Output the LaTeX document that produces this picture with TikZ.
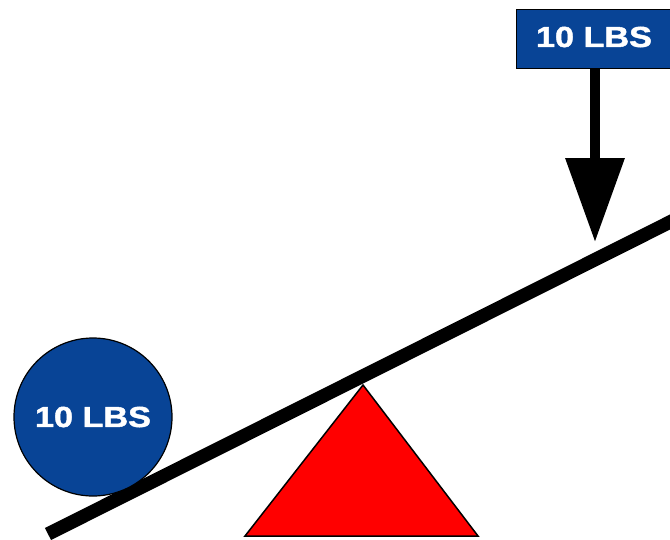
\documentclass[tikz,border=0pt]{standalone}
\usepackage{fontspec}
\newfontfamily\lbs{Liberation Sans Bold}[FakeStretch=1.18, FakeBold=1.6]
\usetikzlibrary{arrows.meta}
\definecolor{lbsblue}{RGB}{8,68,150}
\definecolor{fulcrumred}{RGB}{255,0,0}
\tikzset{
  weight/.style={draw=black, line width=1.2pt, fill=lbsblue, text=white,
    font=\lbs\fontsize{29}{31}\selectfont, inner sep=0pt},
  lever/.style={line width=13.5pt, line cap=butt},
  force/.style={line width=10pt, -{Triangle[width=57pt,length=84pt]}},
  fulcrum/.style={draw=black, line width=1.5pt, fill=fulcrumred, line join=miter}
}
\begin{document}
\begin{tikzpicture}[x=1pt,y=-1pt]
\useasboundingbox (0,0) rectangle (670,539);
% lever
\coordinate (leverL) at (48,534);
\coordinate (leverR) at (690,212);
\draw[lever] (leverL) -- (leverR);
% fulcrum
\coordinate (apex) at (363,385);
\coordinate (baseL) at (245,536);
\coordinate (baseR) at (478,536);
\draw[fulcrum] (apex) -- (baseR) -- (baseL) -- cycle;
% ball weight
\node[weight, circle, minimum size=158pt] (ball) at (93,417) {10 LBS};
% box weight
\node[weight, rectangle, minimum width=160pt, minimum height=59pt, anchor=north west] (box) at (516,9) {};
\node[text=white, font=\lbs\fontsize{29}{31}\selectfont, inner sep=0pt] (boxlabel) at (594,37) {10 LBS};
% force arrow
\coordinate (tip) at (595,242);
\draw[force] (box.south -| tip) -- (tip);
\end{tikzpicture}
\end{document}
